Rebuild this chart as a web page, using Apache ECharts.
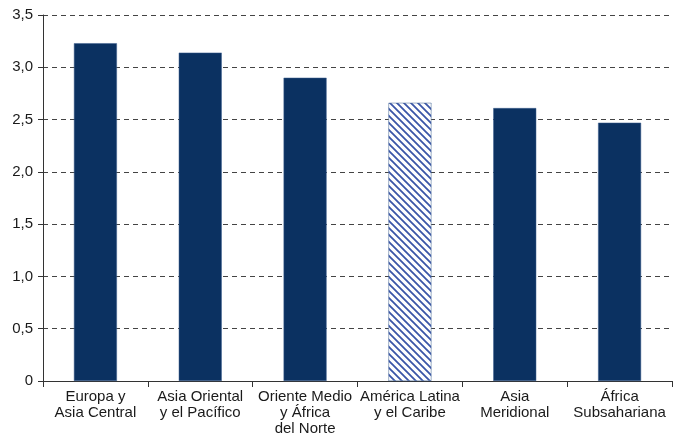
<!DOCTYPE html>
<html>
<head>
<meta charset="utf-8">
<script src="https://cdn.jsdelivr.net/npm/echarts@6/dist/echarts.min.js"></script>
<style>
  html, body { margin: 0; padding: 0; background: #fff; }
  #chart { width: 675px; height: 437px; }
</style>
</head>
<body>
<div id="chart"></div>
<script>
// datos
const categorias = [
    "Europa y\nAsia Central",
    "Asia Oriental\ny el Pacífico",
    "Oriente Medio\ny África\ndel Norte",
    "América Latina\ny el Caribe",
    "Asia\nMeridional",
    "África\nSubsahariana"
];
const valores = [3.23, 3.14, 2.90, 2.66, 2.61, 2.47];
const indiceRayado = 3; // barra con rayado (América Latina)

(function () {
    // patrón de rayas diagonales
    function rayado() {
        let c = document.createElement("canvas")
        c.width = 7
        c.height = 7
        let ctx = c.getContext("2d")
        ctx.fillStyle = "#ffffff"
        ctx.fillRect(0, 0, 7, 7)
        ctx.strokeStyle = "#3b56a8"
        ctx.lineWidth = 1.8
        ctx.beginPath()
        ctx.moveTo(-1, -1); ctx.lineTo(8, 8)
        ctx.moveTo(-8, -1); ctx.lineTo(1, 8)
        ctx.moveTo(6, -1); ctx.lineTo(15, 8)
        ctx.stroke()
        return c
    }

    let myChart = echarts.init(document.getElementById("chart"))
    let option = {
        animation: false,
        grid: { left: 43, right: 3, top: 15, bottom: 56 },
        xAxis: {
            type: "category",
            data: categorias,
            axisLine: { lineStyle: { color: "#333", width: 1 } },
            axisTick: { show: true, length: 6, lineStyle: { color: "#333" } },
            axisLabel: {
                interval: 0,
                color: "#1a1a1a",
                fontFamily: "Liberation Sans",
                fontSize: 15,
                lineHeight: 16,
                margin: 8
            }
        },
        yAxis: {
            type: "value",
            min: 0,
            max: 3.5,
            interval: 0.5,
            axisLine: { show: true, lineStyle: { color: "#333", width: 1 } },
            axisTick: { show: true, length: 5, lineStyle: { color: "#333" } },
            axisLabel: {
                color: "#1a1a1a",
                fontFamily: "Liberation Sans",
                fontSize: 15,
                margin: 10,
                formatter: function (v) {
                    return v === 0 ? "0" : v.toFixed(1).replace(".", ",")
                }
            },
            splitLine: {
                lineStyle: { color: "#444", type: [5, 4], width: 1 }
            }
        },
        series: [
            {
                type: "bar",
                barWidth: "41%",
                data: valores.map(function (v, i) {
                    if (i === indiceRayado) {
                        return {
                            value: v,
                            itemStyle: { color: { image: rayado(), repeat: "repeat" } }
                        }
                    }
                    return v
                }),
                itemStyle: {
                    color: "#0b3161",
                    borderColor: "#3d5f8f",
                    borderWidth: 0.5
                }
            }
        ]
    };
    myChart.setOption(option)
})();
</script>
</body>
</html>
